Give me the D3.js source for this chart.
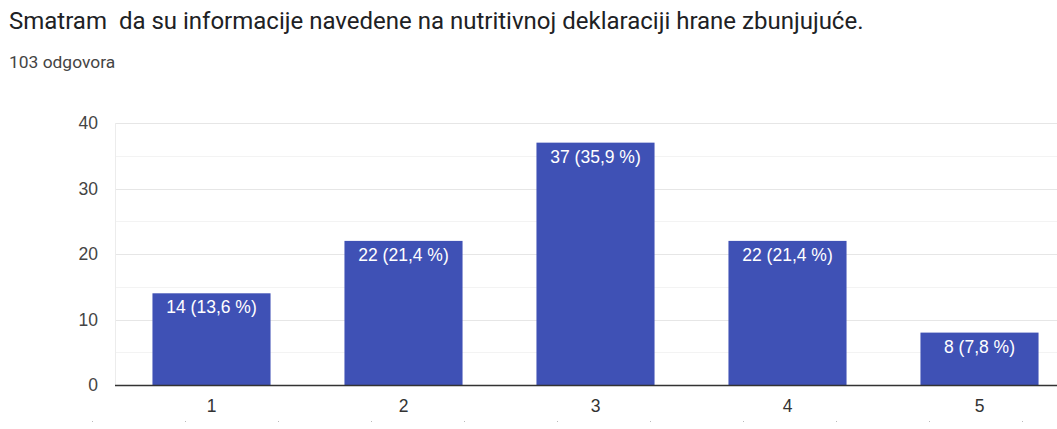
<!DOCTYPE html>
<html>
<head>
<meta charset="utf-8">
<script src="https://cdn.jsdelivr.net/npm/d3@7"></script>
<style>
  body { margin: 0; background: #fff; }
  svg text { font-family: "Liberation Sans", Arial, sans-serif; }
</style>
</head>
<body>
<script>
var width = 1057,
    height = 429;

var title = "Smatram  da su informacije navedene na nutritivnoj deklaraciji hrane zbunjujuće.";
var subtitle = "103 odgovora";
var categories = ["1", "2", "3", "4", "5"];
var counts = [14, 22, 37, 22, 8];
var percents = ["13,6", "21,4", "35,9", "21,4", "7,8"];
var yTicks = [0, 10, 20, 30, 40];
var yMinor = [5, 15, 25, 35];

var svg = d3.select("body").append("svg")
    .attr("width", width)
    .attr("height", height);

svg.append("text")
    .attr("x", 9).attr("y", 29)
    .style("font-family", "Roboto, sans-serif")
    .style("font-size", "24px")
    .style("fill", "#202124")
    .style("white-space", "pre")
    .attr("xml:space", "preserve")
    .text(title);

svg.append("text")
    .attr("x", 9).attr("y", 68)
    .style("font-family", "Roboto, sans-serif")
    .style("font-size", "17.4px")
    .style("fill", "#444")
    .text(subtitle);

var x = d3.scaleBand()
    .domain(categories)
    .range([115.5, 1075.5])
    .paddingInner(0.385)
    .paddingOuter(0.1925);

var y = d3.scaleLinear()
    .domain([0, 40])
    .range([385, 123]);

var g = svg.append("g");

// minor gridlines
g.selectAll(".minor")
    .data(yMinor)
  .enter().append("line")
    .attr("x1", 115).attr("x2", width)
    .attr("y1", function(d) { return Math.round(y(d)) + 0.5; })
    .attr("y2", function(d) { return Math.round(y(d)) + 0.5; })
    .style("stroke", "#f3f3f3");

// major gridlines
g.selectAll(".major")
    .data(yTicks.slice(1))
  .enter().append("line")
    .attr("x1", 115).attr("x2", width)
    .attr("y1", function(d) { return Math.round(y(d)) + 0.5; })
    .attr("y2", function(d) { return Math.round(y(d)) + 0.5; })
    .style("stroke", "#e6e6e6");

g.append("line")
    .attr("x1", 115.5).attr("x2", 115.5)
    .attr("y1", y(40)).attr("y2", y(0))
    .style("stroke", "#ececec");

// y labels
g.selectAll(".ylab")
    .data(yTicks)
  .enter().append("text")
    .attr("x", 98)
    .attr("y", function(d) { return y(d); })
    .attr("dy", "0.36em")
    .attr("text-anchor", "end")
    .style("font-size", "17.5px")
    .style("fill", "#444")
    .text(function(d) { return d; });

// bars
g.selectAll(".bar")
    .data(counts)
  .enter().append("rect")
    .attr("x", function(d, i) { return x(categories[i]); })
    .attr("y", function(d) { return y(d); })
    .attr("width", x.bandwidth())
    .attr("height", function(d) { return y(0) - y(d); })
    .style("fill", "#3f51b5");

g.selectAll(".barlab")
    .data(counts)
  .enter().append("text")
    .attr("x", function(d, i) { return x(categories[i]) + x.bandwidth() / 2; })
    .attr("y", function(d) { return y(d) + 20; })
    .attr("text-anchor", "middle")
    .style("font-size", "17.5px")
    .style("fill", "#fff")
    .text(function(d, i) { return d + " (" + percents[i] + " %)"; });

// baseline
g.append("line")
    .attr("x1", 115).attr("x2", width)
    .attr("y1", 385.5).attr("y2", 385.5)
    .style("stroke", "#333")
    .style("stroke-width", 1.3);

// x labels
g.selectAll(".xlab")
    .data(categories)
  .enter().append("text")
    .attr("x", function(d) { return x(d) + x.bandwidth() / 2; })
    .attr("y", 412)
    .attr("text-anchor", "middle")
    .style("font-size", "17.5px")
    .style("fill", "#333")
    .text(function(d) { return d; });

// faint marks cut off at the bottom edge
var marks = d3.range(92, width, 93);
g.selectAll(".mark")
    .data(marks)
  .enter().append("rect")
    .attr("x", function(d) { return d; })
    .attr("y", 421)
    .attr("width", 1).attr("height", 1)
    .style("fill", "#bbb");
</script>
</body>
</html>
